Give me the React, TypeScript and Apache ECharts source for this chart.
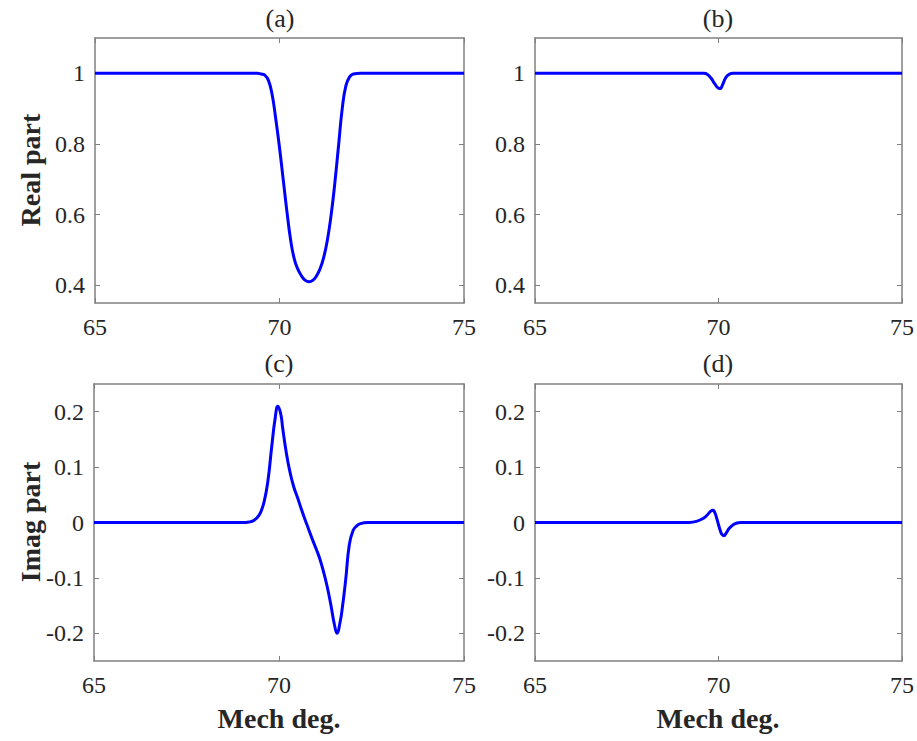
import { useEffect, useRef } from 'react';
import * as echarts from 'echarts';

// Panel (a): real part, large dip
const degA = [65, 69, 69.4, 69.5, 69.6, 69.7, 69.8, 69.9, 70, 70.1, 70.2, 70.3, 70.4, 70.5, 70.6, 70.7, 70.8, 70.9, 71, 71.1, 71.2, 71.3, 71.4, 71.5, 71.6, 71.7, 71.8, 71.9, 72, 72.2, 75];
const realA = [1, 1, 1, 0.998, 0.995, 0.98, 0.94, 0.87, 0.79, 0.7, 0.61, 0.53, 0.475, 0.445, 0.426, 0.414, 0.41, 0.414, 0.426, 0.447, 0.48, 0.53, 0.6, 0.69, 0.795, 0.9, 0.965, 0.99, 0.998, 1, 1];

// Panel (b): real part, small dip
const degB = [65, 69.6, 69.7, 69.8, 69.9, 70, 70.05, 70.1, 70.2, 70.3, 70.4, 75];
const realB = [1, 1, 0.997, 0.986, 0.97, 0.958, 0.957, 0.965, 0.988, 0.998, 1, 1];

// Panel (c): imag part, large swing
const degC = [65, 69, 69.2, 69.3, 69.4, 69.5, 69.6, 69.7, 69.8, 69.9, 69.97, 70.05, 70.1, 70.2, 70.3, 70.4, 70.5, 70.6, 70.7, 70.8, 70.9, 71, 71.1, 71.2, 71.3, 71.4, 71.5, 71.57, 71.65, 71.7, 71.8, 71.9, 72, 72.1, 72.2, 72.4, 75];
const imagC = [0, 0, 0.001, 0.003, 0.008, 0.018, 0.038, 0.075, 0.135, 0.19, 0.21, 0.195, 0.17, 0.125, 0.09, 0.064, 0.045, 0.025, 0.006, -0.012, -0.03, -0.047, -0.065, -0.088, -0.115, -0.148, -0.185, -0.2, -0.18, -0.16, -0.105, -0.04, -0.015, -0.006, -0.002, 0, 0];

// Panel (d): imag part, small swing
const degD = [65, 69.2, 69.4, 69.6, 69.7, 69.8, 69.85, 69.9, 69.95, 70, 70.05, 70.1, 70.15, 70.2, 70.3, 70.4, 70.5, 70.6, 75];
const imagD = [0, 0, 0.002, 0.008, 0.014, 0.021, 0.022, 0.018, 0.008, -0.004, -0.015, -0.022, -0.024, -0.02, -0.01, -0.004, -0.001, 0, 0];

const xTicks = [65, 70, 75];
const realTicks = [0.4, 0.6, 0.8, 1];
const imagTicks = [-0.2, -0.1, 0, 0.1, 0.2];
const panelTitles = ['(a)', '(b)', '(c)', '(d)'];
const xLabel = 'Mech deg.';
const yLabels = ['Real part', 'Imag part'];

const FONT = 'Liberation Serif';
const AXIS_COLOR = '#808080';
const TEXT_COLOR = '#262626';

export default function App() {
  const ref = useRef<HTMLDivElement>(null);
  useEffect(() => {
    const chart = echarts.init(ref.current!, null, { renderer: 'svg' });
    const grids = [
      { left: 95, top: 38, width: 369, height: 265 },
      { left: 535, top: 38, width: 367, height: 265 },
      { left: 94, top: 384, width: 370, height: 277 },
      { left: 535, top: 384, width: 367, height: 277 },
    ];
    const yRanges = [
      { min: 0.35, max: 1.1, ticks: realTicks },
      { min: 0.35, max: 1.1, ticks: realTicks },
      { min: -0.25, max: 0.25, ticks: imagTicks },
      { min: -0.25, max: 0.25, ticks: imagTicks },
    ];
    const seriesData = [
      degA.map((d, i) => [d, realA[i]]),
      degB.map((d, i) => [d, realB[i]]),
      degC.map((d, i) => [d, imagC[i]]),
      degD.map((d, i) => [d, imagD[i]]),
    ];
    const axisLine = { show: true, onZero: false, lineStyle: { color: AXIS_COLOR, width: 1.5 } };
    const labelStyle = {
      color: TEXT_COLOR, fontFamily: FONT, fontSize: 24,
      formatter: '{t|{value}}',
      rich: { t: { fontFamily: FONT, fontSize: 24, color: TEXT_COLOR } },
    };
    const xAxis: any[] = [];
    const yAxis: any[] = [];
    grids.forEach((_, i) => {
      for (const pos of ['bottom', 'top']) {
        xAxis.push({
          type: 'value', gridIndex: i, position: pos, min: 65, max: 75,
          axisLine,
          axisTick: { show: true, inside: true, length: 5, customValues: xTicks, lineStyle: { color: AXIS_COLOR, width: 1 } },
          axisLabel: { show: pos === 'bottom', customValues: xTicks, margin: 12, ...labelStyle },
          splitLine: { show: false },
        });
      }
      const yr = yRanges[i];
      for (const pos of ['left', 'right']) {
        yAxis.push({
          type: 'value', gridIndex: i, position: pos, min: yr.min, max: yr.max,
          axisLine,
          axisTick: { show: true, inside: true, length: 5, customValues: yr.ticks, lineStyle: { color: AXIS_COLOR, width: 1 } },
          axisLabel: { show: pos === 'left', customValues: yr.ticks, margin: 10, ...labelStyle },
          splitLine: { show: false },
        });
      }
    });
    const series = seriesData.map((data, i) => ({
      type: 'line', xAxisIndex: 2 * i, yAxisIndex: 2 * i, data,
      showSymbol: false, smooth: 0.5,
      lineStyle: { color: '#0000ff', width: 3 }, itemStyle: { color: '#0000ff' },
    }));
    const titlePos = [[280, 18], [718, 18], [279, 363], [718, 363]];
    const graphic: any[] = [];
    panelTitles.forEach((t, i) => {
      graphic.push({
        type: 'text', x: titlePos[i][0], y: titlePos[i][1],
        style: { text: t, fill: TEXT_COLOR, fontFamily: FONT, fontSize: 26, textAlign: 'center', textVerticalAlign: 'middle' },
      });
    });
    [[279, 718], [718, 718]].forEach(([x, y]) => {
      graphic.push({
        type: 'text', x, y,
        style: { text: xLabel, fill: TEXT_COLOR, fontFamily: FONT, fontSize: 28, fontWeight: 'bold', textAlign: 'center', textVerticalAlign: 'middle' },
      });
    });
    [[30, 170], [30, 522]].forEach(([x, y], i) => {
      graphic.push({
        type: 'text', x, y, rotation: Math.PI / 2,
        style: { text: yLabels[i], fill: TEXT_COLOR, fontFamily: FONT, fontSize: 28, fontWeight: 'bold', textAlign: 'center', textVerticalAlign: 'middle' },
      });
    });
    chart.setOption({
      animation: false,
      backgroundColor: '#ffffff',
      textStyle: { fontFamily: FONT },
      grid: grids,
      xAxis,
      yAxis,
      series,
      graphic,
    });
    return () => chart.dispose();
  }, []);
  return <div ref={ref} style={{ position: 'absolute', left: 0, top: 0, width: 917, height: 741, background: '#fff' }} />;
}
